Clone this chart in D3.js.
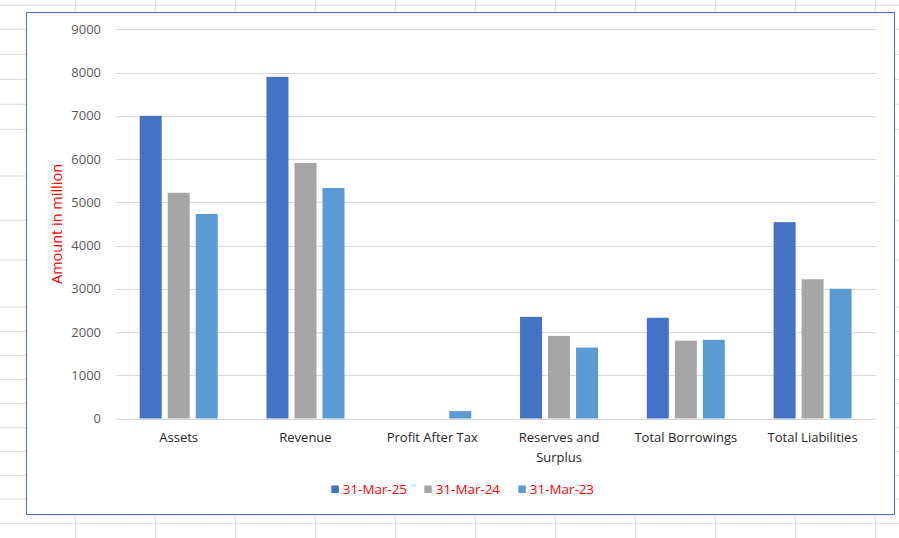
<!DOCTYPE html>
<html>
<head>
<meta charset="utf-8">
<script src="https://cdn.jsdelivr.net/npm/d3@7"></script>
<style>
  html, body { margin: 0; padding: 0; background: #ffffff; }
  svg { display: block; }
  text { font-family: "Open Sans", "Liberation Sans", sans-serif; }
</style>
</head>
<body>
<svg id="chart" width="899" height="538"></svg>
<script>
// ---- data ----
const categories = ["Assets", "Revenue", "Profit After Tax", "Reserves and Surplus", "Total Borrowings", "Total Liabilities"];
const seriesNames = ["31-Mar-25", "31-Mar-24", "31-Mar-23"];
const values25 = [7000, 7900, 0, 2350, 2330, 4540];
const values24 = [5220, 5910, 0, 1910, 1800, 3220];
const values23 = [4730, 5330, 170, 1640, 1820, 3000];
const yTicks = [0, 1000, 2000, 3000, 4000, 5000, 6000, 7000, 8000, 9000];
const yTitle = "Amount in million";

// background spreadsheet grid (decoration)
const sheetRows = [5.3, 29.3, 54.3, 79.3, 104.3, 129.3, 176, 220.3, 260, 307, 331.3, 355.3, 379.3, 403.3, 427.7, 451.3, 475.3, 499, 523.3];
const sheetCols = [75.3, 155.3, 235.3, 315.3, 395.3, 475.3, 555.3, 635.3, 715.3, 795.3, 875.3];

const colors = ["#4472c4", "#a5a5a5", "#5b9bd5"];
const seriesValues = [values25, values24, values23];

const W = 899, H = 538;
const svg = d3.select("#chart");

// sheet grid
const g0 = svg.append("g");
g0.selectAll("line.r").data(sheetRows).join("line")
  .attr("x1", 0).attr("x2", W).attr("y1", d => d).attr("y2", d => d)
  .attr("stroke", "#dadada").attr("stroke-width", 1);
g0.selectAll("line.c").data(sheetCols).join("line")
  .attr("y1", 0).attr("y2", H).attr("x1", d => d).attr("x2", d => d)
  .attr("stroke", "#dadada").attr("stroke-width", 1);

// chart area
svg.append("rect")
  .attr("x", 26.5).attr("y", 12.5).attr("width", 868).attr("height", 502)
  .attr("fill", "#ffffff").attr("stroke", "#4472c4").attr("stroke-width", 1);

const plot = { left: 115.3, right: 876, top: 29.3, bottom: 418.5 };

const x0 = d3.scaleBand().domain(categories).range([plot.left, plot.right]).padding(0);
const y = d3.scaleLinear().domain([0, 9000]).range([plot.bottom, plot.top]);

const barW = 22, barStep = 28;
const x1 = d3.scaleBand().domain(seriesNames)
  .range([0, barStep * seriesNames.length])
  .paddingInner((barStep - barW) / barStep)
  .paddingOuter((barStep - barW) / barStep / 2);

// gridlines
svg.append("g").selectAll("line").data(yTicks).join("line")
  .attr("x1", plot.left).attr("x2", plot.right)
  .attr("y1", d => Math.round(y(d)) + 0.5).attr("y2", d => Math.round(y(d)) + 0.5)
  .attr("stroke", "#d9d9d9").attr("stroke-width", 1);

// y tick labels
svg.append("g").selectAll("text").data(yTicks).join("text")
  .attr("x", 101).attr("y", d => y(d))
  .attr("dy", "0.35em")
  .attr("text-anchor", "end")
  .attr("fill", "#595959")
  .attr("font-size", "13px")
  .text(d => d);

// y axis title
svg.append("text")
  .attr("transform", `translate(62,224) rotate(-90)`)
  .attr("text-anchor", "middle")
  .attr("fill", "#ff0000")
  .attr("font-size", "14.5px")
  .text(yTitle);

// bars
const groupOffset = (x0.bandwidth() - barStep * seriesNames.length) / 2;
const bars = svg.append("g");
seriesNames.forEach((s, si) => {
  bars.append("g").selectAll("rect").data(categories.map((c, ci) => ({ c, v: seriesValues[si][ci] })))
    .join("rect")
    .attr("x", d => x0(d.c) + groupOffset + x1(s))
    .attr("width", x1.bandwidth())
    .attr("y", d => y(d.v))
    .attr("height", d => y(0) - y(d.v))
    .attr("fill", colors[si]);
});

// category labels (wrap "Reserves and Surplus")
const catG = svg.append("g");
categories.forEach(c => {
  const lines = c === "Reserves and Surplus" ? ["Reserves and", "Surplus"] : [c];
  const t = catG.append("text")
    .attr("x", x0(c) + x0.bandwidth() / 2)
    .attr("y", 437.5)
    .attr("text-anchor", "middle")
    .attr("fill", "#262626")
    .attr("font-size", "13px");
  lines.forEach((ln, i) => {
    t.append("tspan").attr("x", x0(c) + x0.bandwidth() / 2)
      .attr("dy", i === 0 ? "0.35em" : "19.5px").text(ln);
  });
});

// legend
const legendX = [331.3, 424.3, 518.3];
const legG = svg.append("g");
seriesNames.forEach((s, i) => {
  legG.append("rect").attr("x", legendX[i]).attr("y", 485.5).attr("width", 7.5).attr("height", 7.5).attr("fill", colors[i]);
  legG.append("text").attr("x", legendX[i] + 11.5).attr("y", 489.3).attr("dy", "0.35em")
    .attr("fill", "#ff0000").attr("font-size", "13.4px").text(s);
});
</script>
</body>
</html>
